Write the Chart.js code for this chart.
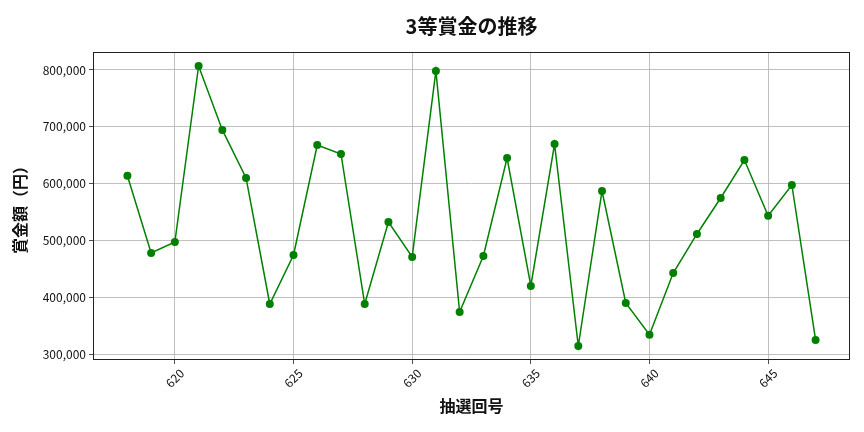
<!DOCTYPE html>
<html>
<head>
<meta charset="utf-8">
<script src="https://cdn.jsdelivr.net/npm/chart.js@4/dist/chart.umd.min.js"></script>
<style>
  html, body { margin: 0; padding: 0; background: #fff; }
  #wrap { width: 864px; height: 432px; }
</style>
</head>
<body>
<div id="wrap"><canvas id="prize-chart"></canvas></div>
<script>
// 回号
var draws = [618, 619, 620, 621, 622, 623, 624, 625, 626, 627,
             628, 629, 630, 631, 632, 633, 634, 635, 636, 637,
             638, 639, 640, 641, 642, 643, 644, 645, 646, 647];
// 3等賞金（円）
var prizes = [614200, 478400, 497700, 807000, 694600, 610200, 388700, 474900, 668200, 652400,
              388700, 532900, 471400, 798200, 374700, 473100, 645300, 420400, 669900, 314900,
              587300, 390500, 334800, 443200, 511800, 575000, 641800, 543900, 597900, 325500];
var xTicks = [620, 625, 630, 635, 640, 645];
var yTicks = [300000, 400000, 500000, 600000, 700000, 800000];

var font = "'Noto Sans CJK JP', 'Noto Sans', sans-serif";

var frame = {
    id: 'frame',
    afterDraw: function (chart) {
        var a = chart.chartArea, c = chart.ctx;
        c.save();
        c.strokeStyle = '#222';
        c.lineWidth = 1;
        c.strokeRect(a.left + 0.5, a.top + 0.5, a.right - a.left - 1, a.bottom - a.top - 1);
        c.restore();
    }
};

var points = draws.map(function (d, i) { return { x: d, y: prizes[i] }; });

new Chart(document.getElementById('prize-chart'), {
    type: 'line',
    data: {
        datasets: [{
            data: points,
            borderColor: '#008000',
            backgroundColor: '#008000',
            borderWidth: 1.5,
            pointRadius: 4,
            pointHoverRadius: 4,
            pointBorderWidth: 0,
            tension: 0
        }]
    },
    options: {
        responsive: true,
        maintainAspectRatio: false,
        animation: false,
        layout: { padding: { top: 4, right: 14, left: 6, bottom: 12 } },
        plugins: {
            legend: { display: false },
            tooltip: { enabled: false },
            title: {
                display: true,
                fullSize: false,
                text: '3等賞金の推移',
                color: '#111',
                font: { family: font, size: 20, weight: 'bold' },
                padding: { top: 10, bottom: 14 }
            }
        },
        scales: {
            x: {
                type: 'linear',
                min: 616.55,
                max: 648.45,
                afterBuildTicks: function (s) { s.ticks = xTicks.map(function (v) { return { value: v }; }); },
                afterFit: function (s) { s.height = 60; },
                grid: { color: '#b0b0b0', lineWidth: 0.8, tickColor: '#222', tickLength: 4 },
                border: { display: false },
                ticks: {
                    color: '#111',
                    minRotation: 45,
                    maxRotation: 45,
                    labelOffset: 7,
                    padding: 2,
                    font: { family: font, size: 12 },
                    callback: function (v) { return String(v); }
                },
                title: {
                    display: true,
                    text: '抽選回号',
                    color: '#111',
                    font: { family: font, size: 16, weight: 'bold' },
                    padding: { top: 4 }
                }
            },
            y: {
                min: 290300,
                max: 831600,
                afterBuildTicks: function (s) { s.ticks = yTicks.map(function (v) { return { value: v }; }); },
                afterFit: function (s) { s.width = 87; },
                grid: { color: '#b0b0b0', lineWidth: 0.8, tickColor: '#222', tickLength: 4 },
                border: { display: false },
                ticks: {
                    color: '#111',
                    padding: 3,
                    font: { family: font, size: 12 },
                    callback: function (v) { return v.toLocaleString('en-US'); }
                },
                title: {
                    display: true,
                    text: '賞金額（円）',
                    color: '#111',
                    font: { family: font, size: 16, weight: 'bold' },
                    padding: { bottom: 4 }
                }
            }
        }
    },
    plugins: [frame]
});
</script>
</body>
</html>
